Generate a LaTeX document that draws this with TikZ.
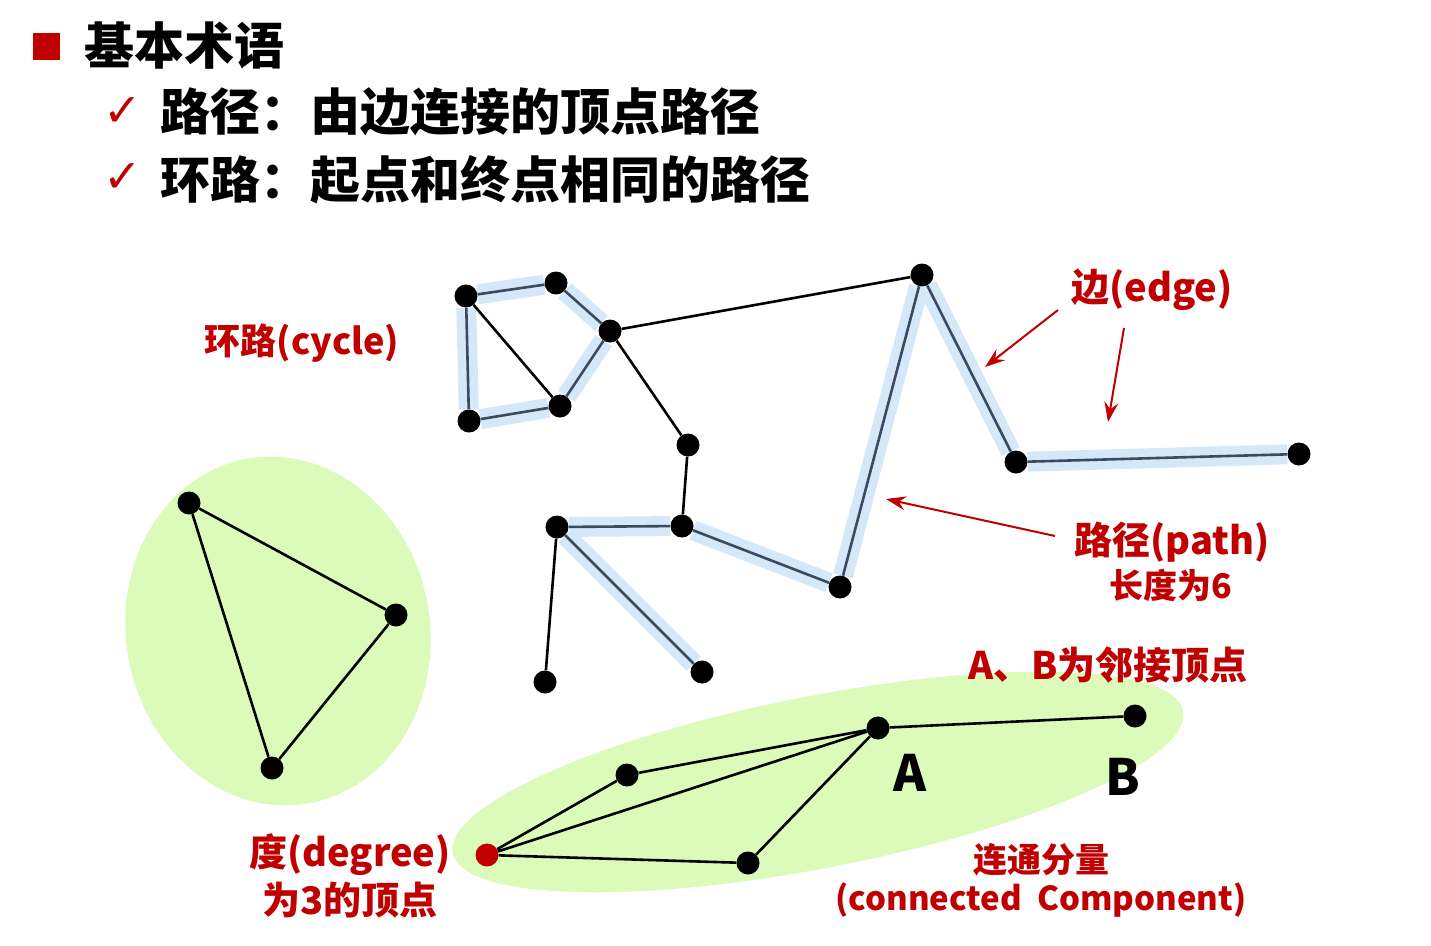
\documentclass[tikz,border=0pt]{standalone}
\usepackage{fontspec}
\setmainfont{Noto Sans CJK SC}
\newfontfamily\symfont{DejaVu Sans}
\usetikzlibrary{positioning,arrows.meta}
\definecolor{hred}{HTML}{C00000}
\definecolor{halo}{HTML}{D5E8FA}
\definecolor{pathline}{HTML}{3B4A5C}
\definecolor{compgreen}{HTML}{DCFBBA}
\tikzset{
	vtx/.style={circle,fill=black,inner sep=0pt,minimum size=23pt},
	plainedge/.style={line width=2.6pt},
	haloedge/.style={halo,line width=20pt},
	pathedge/.style={pathline,line width=2.6pt},
	redlbl/.style={text=hred,font=\bfseries\fontsize{37}{42}\selectfont,align=center,inner sep=0pt},
	titlelbl/.style={anchor=west,inner sep=0pt,font=\bfseries\fontsize{50}{56}\selectfont},
	checkmk/.style={text=hred,inner sep=0pt,font=\symfont\fontsize{46}{48}\selectfont},
	redarrow/.style={hred,line width=2pt,-{Stealth[length=20pt,width=14pt,inset=7pt]}}
}
\begin{document}
\begin{tikzpicture}[x=1pt,y=-1pt]
	\useasboundingbox (0,0) rectangle (1431,945);
	% heading
	\fill[hred] (33,33) rectangle (60,60);
	\node[titlelbl] (head) at (84,46) {基本术语};
	\node[checkmk] (chk1) at (123,112) {✓};
	\node[checkmk] (chk2) at (123,178) {✓};
	\node[titlelbl] (line1) at (160,112) {路径：由边连接的顶点路径};
	\node[titlelbl] (line2) at (160,180) {环路：起点和终点相同的路径};
	% components
	\fill[compgreen,rotate around={10:(278,631)}] (278,631) ellipse [x radius=152pt,y radius=175pt];
	\fill[compgreen,rotate around={11:(818,782)}] (818,782) ellipse [x radius=372pt,y radius=86pt];
	% vertices
	\node[vtx] (cyA) at (466,296) {};
	\node[vtx] (cyB) at (556,283) {};
	\node[vtx] (cyC) at (610,331) {};
	\node[vtx] (cyD) at (560,406) {};
	\node[vtx] (cyE) at (469,421) {};
	\node[vtx] (peak) at (922,275) {};
	\node[vtx] (m1) at (688,445) {};
	\node[vtx] (m2) at (682,526) {};
	\node[vtx] (m3) at (557,527) {};
	\node[vtx] (m4) at (545,682) {};
	\node[vtx] (m5) at (702,672) {};
	\node[vtx] (m6) at (840,587) {};
	\node[vtx] (m7) at (1016,462) {};
	\node[vtx] (m8) at (1299,454) {};
	\node[vtx] (tA) at (189,503) {};
	\node[vtx] (tB) at (396,615) {};
	\node[vtx] (tC) at (272,768) {};
	\node[vtx,fill=hred] (deg) at (487,855) {};
	\node[vtx] (cA) at (627,775) {};
	\node[vtx] (vA) at (878,728) {};
	\node[vtx] (cC) at (748,863) {};
	\node[vtx] (vB) at (1135,716) {};
	% halos under the cycle and the path
	\draw[haloedge] (cyA)--(cyB) (cyB)--(cyC) (cyC)--(cyD) (cyD)--(cyE) (cyE)--(cyA);
	\draw[haloedge] (m5)--(m3) (m3)--(m2) (m2)--(m6) (m6)--(peak) (peak)--(m7) (m7)--(m8);
	\draw[pathedge] (cyA)--(cyB) (cyB)--(cyC) (cyC)--(cyD) (cyD)--(cyE) (cyE)--(cyA);
	\draw[pathedge] (m5)--(m3) (m3)--(m2) (m2)--(m6) (m6)--(peak) (peak)--(m7) (m7)--(m8);
	% other edges
	\draw[plainedge] (cyA)--(cyD) (cyC)--(peak) (cyC)--(m1) (m1)--(m2) (m3)--(m4);
	\draw[plainedge] (tA)--(tB)--(tC)--(tA);
	\draw[plainedge] (deg)--(cA) (cA)--(vA) (deg)--(vA) (deg)--(cC) (cC)--(vA) (vA)--(vB);
	% labels
	\node[font=\bfseries\fontsize{50}{56}\selectfont,inner sep=0pt] (lblA) at (910,773) {A};
	\node[font=\bfseries\fontsize{50}{56}\selectfont,inner sep=0pt] (lblB) at (1123,777) {B};
	\node[redlbl,font=\bfseries\fontsize{36}{40}\selectfont] (cyclelbl) at (302,343) {环路(cycle)};
	\node[redlbl,font=\bfseries\fontsize{38}{42}\selectfont] (edgelbl) at (1152,290) {边(edge)};
	\node[redlbl,font=\bfseries\fontsize{38}{42}\selectfont] (pathlbl) at (1172,542) {路径(path)};
	\node[redlbl,font=\bfseries\fontsize{34}{38}\selectfont] (lenlbl) at (1171,585) {长度为6};
	\node[redlbl,font=\bfseries\fontsize{38}{42}\selectfont] (adjlbl) at (1108,665) {A、B为邻接顶点};
	\node[redlbl,font=\bfseries\fontsize{38}{42}\selectfont] (deglbl) at (350,855) {度(degree)};
	\node[redlbl,font=\bfseries\fontsize{38}{42}\selectfont] (deglbl2) at (350,900) {为3的顶点};
	\node[redlbl,font=\bfseries\fontsize{34}{38}\selectfont] (complbl) at (1041,860) {连通分量};
	\node[redlbl,font=\bfseries\fontsize{33}{38}\selectfont] (complbl2) at (1041,900) {(connected\ \ Component)};
	% pointers
	\coordinate (edgetail1) at (1058,310);
	\coordinate (edgetip1) at (985,367);
	\coordinate (edgetail2) at (1124,328);
	\coordinate (edgetip2) at (1108,422);
	\coordinate (pathtail) at (1055,536);
	\coordinate (pathtip) at (886,499);
	\draw[redarrow] (edgetail1)--(edgetip1);
	\draw[redarrow] (edgetail2)--(edgetip2);
	\draw[redarrow] (pathtail)--(pathtip);
\end{tikzpicture}
\end{document}
